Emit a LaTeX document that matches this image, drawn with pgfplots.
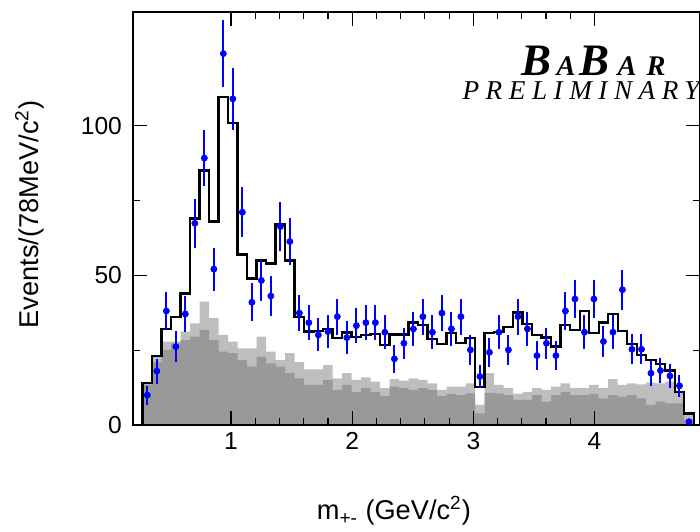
\documentclass[border=0pt]{standalone}
\usepackage{fontspec}
\setmainfont{Liberation Sans}
\newfontfamily\babarfont{Liberation Serif}
\newfontfamily\prelimfont[LetterSpace=24]{Liberation Serif}
\usepackage{pgfplots}
\usepackage{pgfplotstable}
\pgfplotsset{compat=1.18}
\usetikzlibrary{calc}
\definecolor{lightgr}{RGB}{190,190,190}
\definecolor{darkgr}{RGB}{153,153,153}
\definecolor{datablue}{RGB}{0,0,255}

\pgfplotstableread{
edge light dark
0.2710 13.9 13.5
0.3494 22.8 21.0
0.4278 27.9 25.1
0.5062 27.9 27.3
0.5846 31.2 28.4
0.6630 34.0 29.5
0.7414 41.2 31.8
0.8198 35.7 28.4
0.8982 30.1 24.5
0.9766 27.9 24.0
1.0550 25.6 21.7
1.1334 25.6 19.5
1.2118 29.5 22.8
1.2902 24.5 20.6
1.3686 21.7 19.5
1.4470 24.0 17.3
1.5254 21.0 15.6
1.6038 18.6 13.4
1.6822 18.6 13.4
1.7606 20.0 15.1
1.8390 15.6 11.7
1.9174 17.3 13.4
1.9958 15.1 11.1
2.0742 15.9 12.3
2.1526 14.5 11.1
2.2310 12.3 9.7
2.3094 15.3 12.8
2.3878 14.8 12.3
2.4662 15.6 11.7
2.5446 15.1 12.3
2.6230 13.9 11.7
2.7014 11.7 9.7
2.7798 12.8 10.4
2.8582 12.8 10.0
2.9366 13.9 10.6
3.0150 6.7 3.9
3.0934 17.3 10.7
3.1718 13.4 10.6
3.2502 12.3 10.0
3.3286 10.5 8.4
3.4070 11.1 8.4
3.4854 12.3 10.0
3.5638 11.7 7.8
3.6422 12.8 10.0
3.7206 13.9 11.1
3.7990 12.3 10.0
3.8774 12.3 10.0
3.9558 13.4 10.4
4.0342 12.3 8.9
4.1126 15.3 10.0
4.1910 13.4 9.5
4.2694 13.9 10.0
4.3478 13.6 8.9
4.4262 14.2 6.7
4.5046 13.9 7.8
4.5830 14.5 7.2
4.6614 11.1 7.2
4.7398 3.9 1.7
4.8182 3.9 1.7
}\bgtable

\pgfplotstableread{
x y err
0.3102 10.0 3.2
0.3886 18.0 4.2
0.4670 38.1 6.2
0.5454 26.2 5.1
0.6238 37.1 6.1
0.7022 67.4 8.2
0.7806 89.2 9.4
0.8590 52.1 7.2
0.9374 124.1 11.1
1.0158 109.0 10.4
1.0942 71.1 8.4
1.1726 41.0 6.4
1.2510 48.3 7.0
1.3294 43.1 6.6
1.4078 66.3 8.1
1.4862 61.3 7.8
1.5646 37.4 6.1
1.6430 34.2 5.8
1.7214 30.1 5.5
1.7998 31.2 5.6
1.8782 36.2 6.0
1.9566 29.2 5.4
2.0350 33.2 5.8
2.1134 34.2 5.8
2.1918 34.2 5.8
2.2702 31.0 5.6
2.3486 22.1 4.7
2.4270 27.3 5.2
2.5054 32.1 5.7
2.5838 36.2 6.0
2.6622 31.0 5.6
2.7406 37.4 6.1
2.8190 32.1 5.7
2.8974 36.2 6.0
2.9758 25.1 5.0
3.0542 16.2 4.0
3.1326 24.3 4.9
3.2110 31.0 5.6
3.2894 25.1 5.0
3.3678 36.2 6.0
3.4462 32.1 5.7
3.5246 23.2 4.8
3.6030 27.3 5.2
3.6814 23.2 4.8
3.7598 38.1 6.2
3.8382 42.1 6.5
3.9166 31.0 5.6
3.9950 42.1 6.5
4.0734 27.9 5.3
4.1518 31.0 5.6
4.2302 45.2 6.7
4.3086 25.3 5.0
4.3870 25.3 5.0
4.4654 17.3 4.2
4.5438 18.2 4.3
4.6222 16.4 4.1
4.7006 13.1 3.6
4.7790 1.1 1.0
}\datatable

\begin{document}
\begin{tikzpicture}
\begin{axis}[name=ax, scale only axis, width=283.5pt, height=206.5pt,
  xmin=0.192, xmax=4.87, ymin=0, ymax=138,
  axis on top,
  axis line style={line width=0.75pt},
  xtick={1,2,3,4}, ytick={0,50,100},
  minor x tick num=4, minor y tick num=1,
  major tick length=7pt, minor tick length=3.5pt,
  tick style={black, line width=0.6pt},
  tick align=inside,
  ticklabel style={font=\fontsize{12.3}{14}\selectfont},
  yticklabel style={xshift=-2pt},
  /pgf/number format/assume math mode=true,
  label style={font=\fontsize{13.6}{16}\selectfont},
  xlabel={m\textsubscript{+-} (GeV/c\textsuperscript{2})},
  ylabel={Events/(78MeV/c\textsuperscript{2})},
  xlabel style={at={(axis description cs:0.46,-0.23)}, anchor=base},
  ylabel style={at={(axis description cs:-0.182,0.51)}, anchor=center},
]
\addplot[const plot, fill=lightgr, draw=none] table[x=edge,y=light]{\bgtable} \closedcycle;
\addplot[const plot, fill=darkgr, draw=none] table[x=edge,y=dark]{\bgtable} \closedcycle;
\addplot[const plot, black, line width=1.2pt] coordinates {
(0.271,0) (0.271,14) (0.3494,23) (0.4278,32) (0.5062,36) (0.5846,44) (0.663,69) (0.7414,85) (0.8198,68) (0.8982,109.5) (0.9766,101) (1.055,57) (1.1334,49) (1.2118,55) (1.2902,54) (1.3686,67) (1.447,55) (1.5254,36) (1.6038,31.2) (1.6822,31.5) (1.7606,32) (1.839,29) (1.9174,30.9) (1.9958,29.5) (2.0742,30.1) (2.1526,30.4) (2.231,26.8) (2.3094,30.3) (2.3878,30.3) (2.4662,34.2) (2.5446,33.4) (2.623,28.8) (2.7014,27.1) (2.7798,30.7) (2.8582,27.5) (2.9366,29) (3.015,12.6) (3.0934,30.7) (3.1718,31) (3.2502,32.7) (3.3286,37.6) (3.407,33.8) (3.4854,30.1) (3.5638,29.3) (3.6422,26.2) (3.7206,33.4) (3.799,31.8) (3.8774,38.1) (3.9558,30.7) (4.0342,34.3) (4.1126,37) (4.191,31.5) (4.2694,27.1) (4.3478,23.4) (4.4262,21.7) (4.5046,20.4) (4.583,18.2) (4.6614,11.1) (4.7398,3.9) (4.8182,0)
};
\addplot[only marks, mark=*, mark size=1.5pt, datablue,
  error bars/.cd, y dir=both, y explicit, error mark=none,
  error bar style={line width=1pt, datablue}]
  table[x=x, y=y, y error=err]{\datatable};
\node[anchor=base east, inner sep=0pt, text depth=0pt] at (rel axis cs:0.94,0.847)
  {\babarfont\bfseries\itshape\fontsize{22.5}{22.5}\selectfont B\hspace{2.5pt}{\fontsize{14.2}{14.2}\selectfont A}\hspace{2pt}B\hspace{4pt}{\fontsize{14.2}{14.2}\selectfont A\hspace{5pt}R}};
\node[anchor=base east, inner sep=0pt, text height=9pt, text depth=0pt] at (rel axis cs:1.0,0.789)
  {\prelimfont\itshape\fontsize{13.6}{14}\selectfont PRELIMINARY};
\end{axis}
\pgfresetboundingbox
\path ($(ax.south west)+(-66.5pt,-53pt)$) rectangle ($(ax.north east)+(0pt,6pt)$);
\end{tikzpicture}
\end{document}
